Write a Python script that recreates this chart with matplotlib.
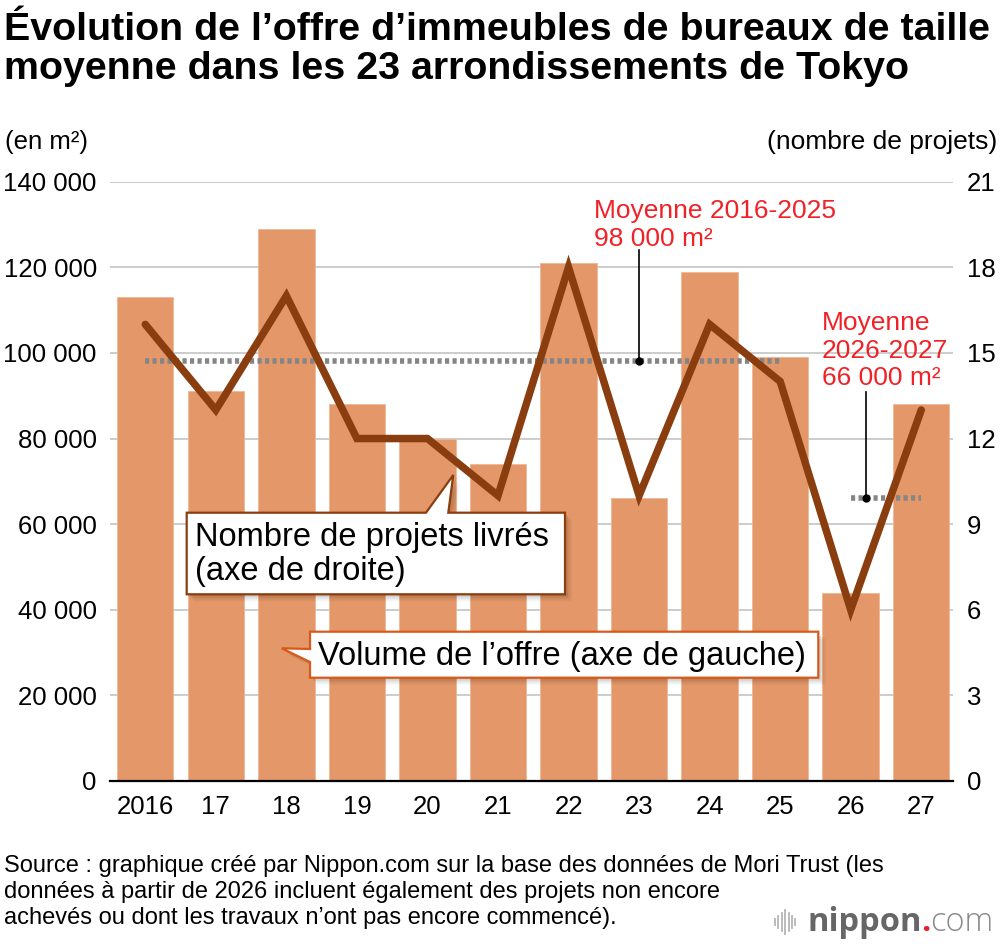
import numpy as np
import matplotlib.pyplot as plt
from matplotlib.patches import Polygon

plt.rcParams['font.family'] = ['Liberation Sans', 'DejaVu Sans']

# data
years = ['2016', '17', '18', '19', '20', '21', '22', '23', '24', '25', '26', '27']
volume = [113000, 91000, 129000, 88000, 80000, 74000, 121000, 66000, 119000, 99000, 44000, 88000]
projects = [16, 13, 17, 12, 12, 10, 18, 10, 16, 14, 6, 13]
avg_1625 = 98000
avg_2627 = 66000
left_ticks = [0, 20000, 40000, 60000, 80000, 100000, 120000, 140000]
left_labels = ['0', '20 000', '40 000', '60 000', '80 000', '100 000', '120 000', '140 000']
right_ticks = [0, 3, 6, 9, 12, 15, 18, 21]

BAR = '#e49768'
LINE = '#8a3d0e'
RED = '#f02228'

W, H = 1000, 944
fig = plt.figure(figsize=(W / 100, H / 100), dpi=100)


def fx(x):
    return x / W


def fy(y):
    return 1 - y / H


ax = fig.add_axes([fx(110), fy(781), fx(953) - fx(110), fy(181.7) - fy(781)])
x = np.arange(len(years))
ax.bar(x, volume, width=0.8, color=BAR, edgecolor='#eeb894', linewidth=0.6, zorder=2)
ax.set_xlim(-0.5, 11.45)
ax.set_ylim(0, 140000)
ax.set_yticks(left_ticks)
ax.set_yticklabels(left_labels)
ax.set_xticks(x)
ax.set_xticklabels(years)
ax.grid(axis='y', color='#cccccc', linewidth=1.4, zorder=0)
ax.set_axisbelow(True)
for s in ['top', 'left', 'right']:
    ax.spines[s].set_visible(False)
ax.spines['bottom'].set_color('black')
ax.spines['bottom'].set_linewidth(1.6)
ax.spines['bottom'].set_zorder(4)
ax.tick_params(axis='both', length=0, labelsize=18.5, colors='black')
ax.tick_params(axis='y', pad=9.5)
ax.tick_params(axis='x', pad=10)

# average lines
n1 = 10
ax.plot([0, n1 - 1], [avg_1625] * 2, color='#858585', linewidth=4,
        linestyle=(0, (0.75, 0.6)), dash_capstyle='butt', zorder=3)
ax.plot([n1, len(years) - 1], [avg_2627] * 2, color='#858585', linewidth=4,
        linestyle=(0, (0.75, 0.6)), dash_capstyle='butt', zorder=3)

# leader lines for the averages
ax.plot([7, 7], [avg_1625, 124000], color='black', linewidth=1.2, zorder=3)
ax.plot([7], [avg_1625], 'o', color='black', markersize=5, zorder=3)
ax.plot([10.22, 10.22], [avg_2627, 90900], color='black', linewidth=1.2, zorder=3)
ax.plot([10.22], [avg_2627], 'o', color='black', markersize=5, zorder=3)

for txt, yy in [('Moyenne 2016-2025', 218), ('98 000 m²', 246)]:
    fig.text(fx(594), fy(yy), txt, color=RED, fontsize=19, va='baseline', ha='left')
for txt, yy in [('Moyenne', 330), ('2026-2027', 357.5), ('66 000 m²', 385)]:
    fig.text(fx(822), fy(yy), txt, color=RED, fontsize=19, va='baseline', ha='left')

ax2 = ax.twinx()
ax2.plot(x, projects, color=LINE, linewidth=5.4, solid_joinstyle='miter',
         solid_capstyle='round', zorder=5)
ax2.set_ylim(0, 21)
ax2.set_yticks(right_ticks)
for s in ax2.spines.values():
    s.set_visible(False)
ax2.tick_params(axis='y', length=0, labelsize=18.5, pad=10)
for lab in ax2.get_yticklabels():
    lab.set_ha('left')

# axis captions
fig.text(fx(5), fy(142), '(en m²)', fontsize=18.5, va='center', ha='left')
fig.text(fx(997), fy(142), '(nombre de projets)', fontsize=19, va='center', ha='right')

# title
fig.text(fx(4), fy(40), "Évolution de l’offre d’immeubles de bureaux de taille",
         fontsize=28.4, fontweight='bold', va='baseline', ha='left')
fig.text(fx(4), fy(79), "moyenne dans les 23 arrondissements de Tokyo",
         fontsize=28.4, fontweight='bold', va='baseline', ha='left')


def callout(pts, edge, lines, tx, ty0, dy):
    fpts = [(fx(a), fy(b)) for a, b in pts]
    for off, al in [(7, 0.04), (5, 0.06), (3, 0.08)]:
        sh = [(fx(a + off), fy(b + off)) for a, b in pts]
        fig.add_artist(Polygon(sh, closed=True, transform=fig.transFigure,
                               facecolor='black', edgecolor='none', alpha=al, zorder=6))
    fig.add_artist(Polygon(fpts, closed=True, transform=fig.transFigure,
                           facecolor='white', edgecolor=edge, linewidth=1.6, zorder=7))
    for i, line in enumerate(lines):
        fig.text(fx(tx), fy(ty0 + i * dy), line, fontsize=23.5, va='baseline', ha='left',
                 zorder=8)


callout([(186.7, 512.7), (426, 512.7), (453.3, 475), (448.3, 512.7), (565, 512.7),
         (565, 594.3), (186.7, 594.3)], LINE,
        ['Nombre de projets livrés', '(axe de droite)'], 195, 546, 34)
callout([(310, 631.7), (818.3, 631.7), (818.3, 677.7), (310, 677.7), (310, 662),
         (281.7, 648.3), (310, 649)], '#d9591a',
        ['Volume de l’offre (axe de gauche)'], 318, 665, 0)

# source note
note = ["Source : graphique créé par Nippon.com sur la base des données de Mori Trust (les",
        "données à partir de 2026 incluent également des projets non encore",
        "achevés ou dont les travaux n’ont pas encore commencé)."]
for i, line in enumerate(note):
    fig.text(fx(4), fy(872 + i * 26), line, fontsize=17, va='baseline', ha='left')

# logo
heights = [6, 12, 18, 24, 18, 12, 6]
for i, h in enumerate(heights):
    xx = 775 + i * 3.4
    fig.add_artist(plt.Line2D([fx(xx), fx(xx)], [fy(922 - h / 2), fy(922 + h / 2)],
                              transform=fig.transFigure, color='#b5b5b5', linewidth=1.3))
renderer = fig.canvas.get_renderer()
logo_font = ['Open Sans', 'DejaVu Sans']
t1 = fig.text(fx(808), fy(931), 'nippon', fontsize=23.5, fontweight='bold', color='#666666',
              va='baseline', ha='left', family=logo_font)
x1 = t1.get_window_extent(renderer).x1 / W
t2 = fig.text(x1 - 0.001, fy(931), '.', fontsize=23.5, fontweight='bold', color='#e8202a',
              va='baseline', ha='left', family=logo_font)
x2 = t2.get_window_extent(renderer).x1 / W
fig.text(x2 - 0.001, fy(931), 'com', fontsize=23.5, fontweight='light', color='#8a8a8a',
         va='baseline', ha='left', family=logo_font)

fig.savefig('out.png', dpi=100)
